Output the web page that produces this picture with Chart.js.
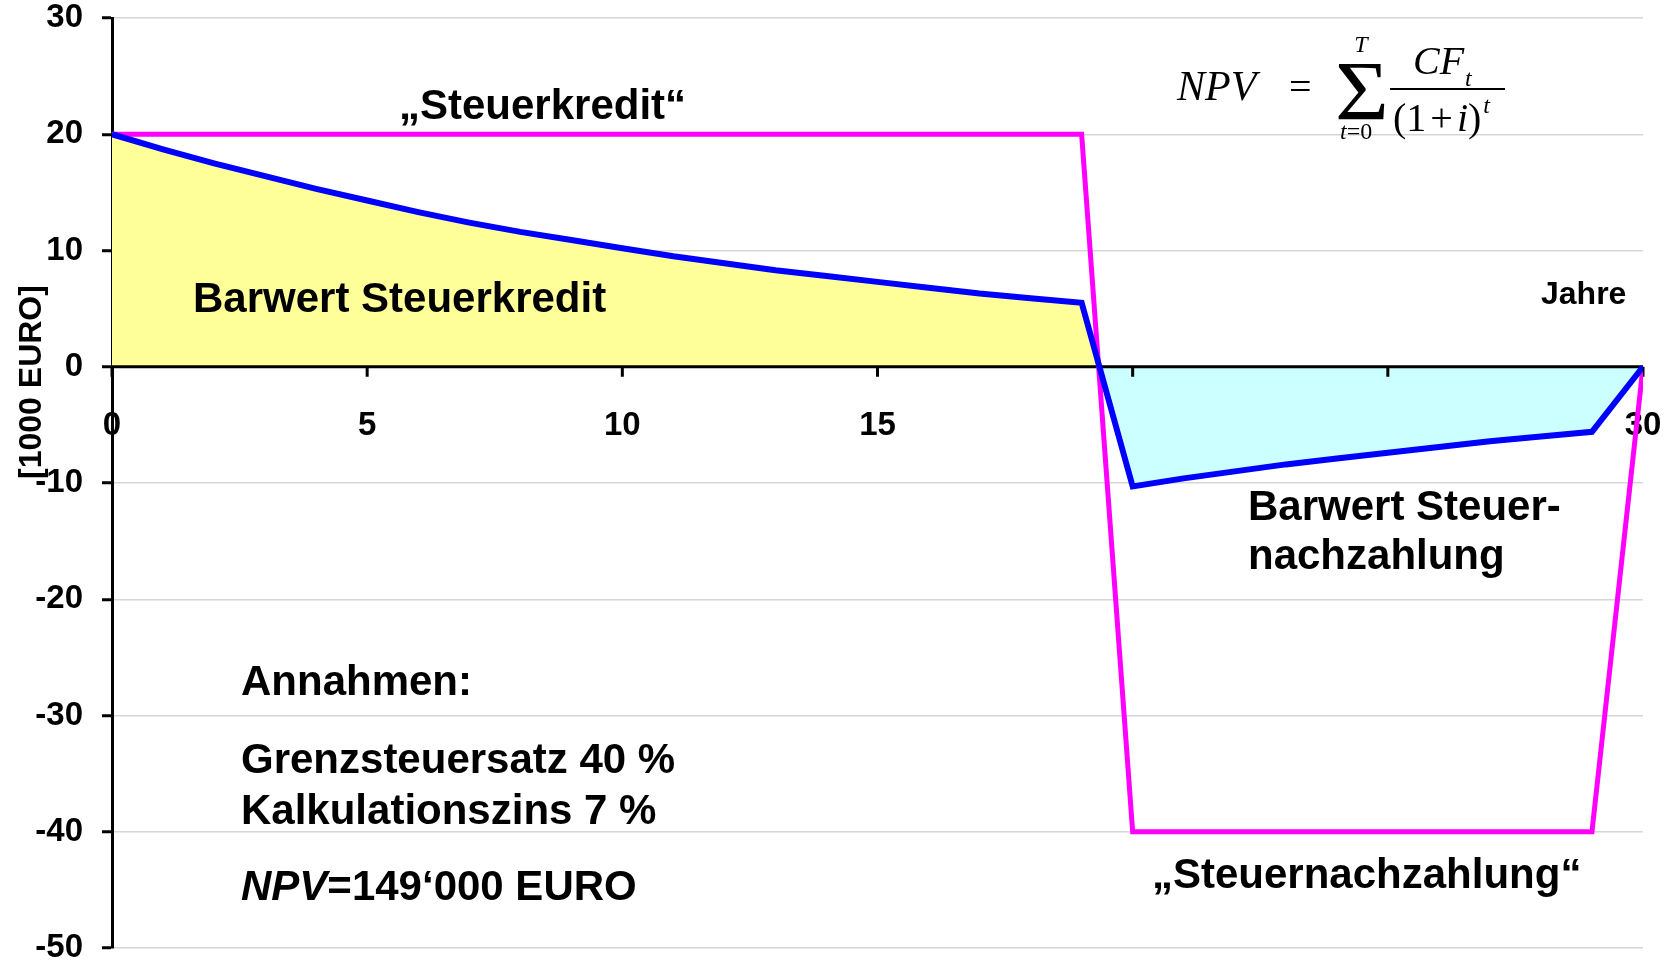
<!DOCTYPE html>
<html lang="de">
<head>
<meta charset="utf-8">
<title>Steuerkredit und Steuernachzahlung</title>
<script src="https://cdn.jsdelivr.net/npm/chart.js@4.4.1/dist/chart.umd.min.js"></script>
<style>
  html, body { margin: 0; padding: 0; background: #fff; }
  #wrap { width: 1677px; height: 966px; position: relative; }
</style>
</head>
<body>
<div id="wrap"><canvas id="chart"></canvas></div>
<script>
'use strict';

// Jahre 0..30
const years = [0, 1, 2, 3, 4, 5, 6, 7, 8, 9, 10, 11, 12, 13, 14, 15, 16, 17, 18, 19,
  20, 21, 22, 23, 24, 25, 26, 27, 28, 29, 30];

// nominaler "Steuerkredit" / "Steuernachzahlung" [1000 EURO]
const steuerkredit = [20, 20, 20, 20, 20, 20, 20, 20, 20, 20, 20, 20, 20, 20, 20, 20, 20, 20, 20, 20,
  -40, -40, -40, -40, -40, -40, -40, -40, -40, -40, 0];

// Barwert [1000 EURO]
const barwert = [20.0, 18.7, 17.5, 16.4, 15.3, 14.3, 13.3, 12.4, 11.6, 10.9, 10.2, 9.5, 8.9, 8.3, 7.8,
  7.3, 6.8, 6.3, 5.9, 5.5, -10.3, -9.6, -9.0, -8.4, -7.9, -7.4, -6.9, -6.4, -6.0, -5.6, 0];

const yMin = -50;
const yMax = 30;
const yStep = 10;
const xStep = 5;

const SANS = '"Liberation Sans", Arial, sans-serif';
const SERIF = '"Liberation Serif", "Times New Roman", serif';
const TICK_FONT = { family: SANS, size: 33, weight: 'bold' };

function put(ctx, str, x, y, font, align, baseline) {
  ctx.font = font;
  ctx.textAlign = align || 'left';
  ctx.textBaseline = baseline || 'alphabetic';
  ctx.fillText(str, x, y);
  return x + ctx.measureText(str).width;
}

// zero line with its tick marks, drawn above the fills but under the lines
const zeroAxis = {
  id: 'zeroAxis',
  beforeDatasetsDraw(chart) {
    const { ctx, chartArea, scales } = chart;
    const y0 = scales.y.getPixelForValue(0);
    ctx.save();
    ctx.strokeStyle = '#000';
    ctx.lineWidth = 3;
    ctx.beginPath();
    ctx.moveTo(chartArea.left, y0);
    ctx.lineTo(chartArea.right, y0);
    scales.x.ticks.forEach(t => {
      const px = scales.x.getPixelForValue(t.value);
      ctx.moveTo(px, y0);
      ctx.lineTo(px, y0 + 10);
    });
    ctx.stroke();
    ctx.restore();
  },
};

// texts, formula and y title
const notes = {
  id: 'notes',
  afterDatasetsDraw(chart) {
    const ctx = chart.ctx;
    const big = `bold 42px ${SANS}`;
    ctx.save();
    ctx.fillStyle = '#000';

    put(ctx, '\u201ESteuerkredit\u201C', 399, 107, big, 'left', 'middle');
    put(ctx, 'Barwert Steuerkredit', 193, 300, big, 'left', 'middle');
    put(ctx, 'Jahre', 1541, 295, `bold 32px ${SANS}`, 'left', 'middle');
    put(ctx, 'Barwert Steuer-', 1248, 508, big, 'left', 'middle');
    put(ctx, 'nachzahlung', 1248, 557, big, 'left', 'middle');
    put(ctx, 'Annahmen:', 241, 683, big, 'left', 'middle');
    put(ctx, 'Grenzsteuersatz 40 %', 241, 761, big, 'left', 'middle');
    put(ctx, 'Kalkulationszins 7 %', 241, 812, big, 'left', 'middle');
    let nx = put(ctx, 'NPV', 241, 888, `italic bold 42px ${SANS}`, 'left', 'middle');
    put(ctx, '=149\u2018000 EURO', nx, 888, big, 'left', 'middle');
    put(ctx, '\u201ESteuernachzahlung\u201C', 1152, 876, big, 'left', 'middle');

    // NPV formula
    put(ctx, 'NPV', 1177, 100, `italic 42px ${SERIF}`);
    put(ctx, '=', 1289, 100, `40px ${SERIF}`);
    ctx.save();
    ctx.translate(1335, 120);
    ctx.scale(1.25, 1.15);
    put(ctx, '\u03A3', 0, 0, `74px ${SERIF}`);
    ctx.restore();
    put(ctx, 'T', 1361, 52, `italic 24px ${SERIF}`, 'center');
    let tx = put(ctx, 't', 1340, 139, `italic 24px ${SERIF}`);
    put(ctx, '=0', tx, 139, `24px ${SERIF}`);
    ctx.strokeStyle = '#000';
    ctx.lineWidth = 2;
    ctx.beginPath();
    ctx.moveTo(1390, 89);
    ctx.lineTo(1505, 89);
    ctx.stroke();
    let cx = put(ctx, 'CF', 1413, 74, `italic 40px ${SERIF}`);
    put(ctx, 't', cx + 1, 86, `italic 24px ${SERIF}`);
    let px = put(ctx, '(1', 1393, 131, `40px ${SERIF}`);
    px = put(ctx, '+', px + 4, 131, `40px ${SERIF}`);
    px = put(ctx, 'i', px + 4, 131, `italic 40px ${SERIF}`);
    px = put(ctx, ')', px, 131, `40px ${SERIF}`);
    put(ctx, 't', px + 2, 113, `italic 24px ${SERIF}`);

    // y axis title
    ctx.translate(32, 382);
    ctx.rotate(-Math.PI / 2);
    put(ctx, '[1000 EURO]', 0, 0, `bold 32px ${SANS}`, 'center', 'middle');
    ctx.restore();
  },
};

const ctx = document.getElementById('chart').getContext('2d');

new Chart(ctx, {
  type: 'line',
  data: {
    datasets: [
      {
        label: 'Barwert',
        data: years.map((x, i) => ({ x, y: barwert[i] })),
        borderColor: '#0000ff',
        borderWidth: 6,
        pointRadius: 0,
        tension: 0,
        fill: { target: 'origin', above: '#ffff99', below: '#ccffff' },
        order: 0,
      },
      {
        label: 'Steuerkredit',
        data: years.map((x, i) => ({ x, y: steuerkredit[i] })),
        borderColor: '#ff00ff',
        borderWidth: 5,
        pointRadius: 0,
        tension: 0,
        fill: false,
        order: 1,
      },
    ],
  },
  options: {
    responsive: true,
    maintainAspectRatio: false,
    animation: false,
    layout: { padding: { top: 18, right: 34, bottom: 18, left: 0 } },
    plugins: {
      legend: { display: false },
      tooltip: { enabled: false },
      filler: { drawTime: 'beforeDatasetsDraw' },
    },
    scales: {
      x: {
        type: 'linear',
        min: 0,
        max: 30,
        position: { y: 0 },
        ticks: { stepSize: xStep, color: '#000', font: TICK_FONT, padding: 39, maxRotation: 0 },
        grid: { display: false, drawTicks: false },
        border: { display: false },
        afterFit: s => { s.paddingLeft = 0; s.paddingRight = 0; },
      },
      y: {
        min: yMin,
        max: yMax,
        ticks: { stepSize: yStep, color: '#000', font: TICK_FONT, padding: 19 },
        grid: { color: '#d6d6d6', lineWidth: 1.5, tickColor: '#000', tickLength: 10, tickWidth: 3 },
        border: { color: '#000', width: 3 },
        afterFit: s => { s.width = 112; s.paddingTop = 0; s.paddingBottom = 0; },
      },
    },
  },
  plugins: [zeroAxis, notes],
});
</script>
</body>
</html>
